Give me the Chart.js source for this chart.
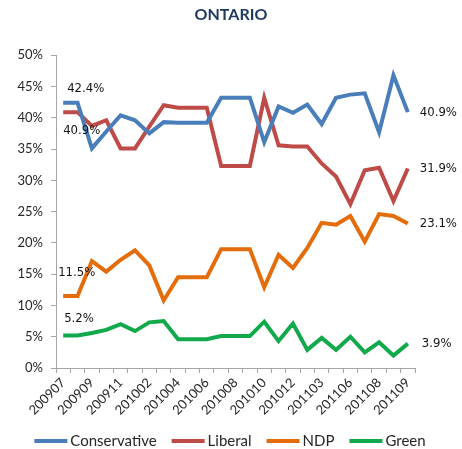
<!DOCTYPE html>
<html lang="en">
<head>
    <meta charset="UTF-8">
    <title>Ontario</title>
    <script src="https://cdn.jsdelivr.net/npm/chart.js"></script>
    <style>
        body {
            margin: 0;
            background: #ffffff;
        }
        canvas {
            display: block;
        }
    </style>
</head>
<body>
    <canvas id="ontarioChart" width="462" height="449"></canvas>

    <script>
        // Poll dates (only every other one is printed on the axis)
        const months = [
            '200907', '200908', '200909', '200910', '200911', '200912',
            '201002', '201003', '201004', '201005', '201006', '201007',
            '201008', '201009', '201010', '201011', '201012', '201101',
            '201103', '201105', '201106', '201107', '201108', '201108',
            '201109'
        ];

        // Party support, %
        const conservative = [42.4, 42.4, 35.1, 37.8, 40.4, 39.6, 37.5, 39.3, 39.2, 39.2, 39.2, 43.2, 43.2,
                              43.2, 36.1, 41.8, 40.8, 42.1, 39.0, 43.2, 43.7, 43.9, 37.7, 46.8, 40.9];
        const liberal      = [40.9, 40.9, 38.7, 39.6, 35.1, 35.1, 38.6, 42.0, 41.6, 41.6, 41.6, 32.3, 32.3,
                              32.3, 43.2, 35.6, 35.4, 35.4, 32.7, 30.6, 26.2, 31.6, 32.0, 26.7, 31.9];
        const ndp          = [11.5, 11.5, 17.1, 15.4, 17.3, 18.8, 16.4, 10.8, 14.5, 14.5, 14.5, 19.0, 19.0,
                              19.0, 12.9, 18.1, 16.0, 19.2, 23.2, 22.9, 24.3, 20.2, 24.6, 24.3, 23.1];
        const green        = [5.2, 5.2, 5.6, 6.1, 7.0, 5.9, 7.3, 7.5, 4.6, 4.6, 4.6, 5.1, 5.1,
                              5.1, 7.4, 4.3, 7.1, 2.9, 4.8, 2.9, 5.0, 2.5, 4.1, 2.0, 3.9];

        const yMax = 50;
        const yStep = 5;

        const axisGray = '#a6a6a6';
        const textColor = '#262626';

        function makeSet(label, data, color) {
            return {
                label: label,
                data: data,
                borderColor: color,
                backgroundColor: color,
                borderWidth: 4,
                pointRadius: 0,
                pointHoverRadius: 0,
                tension: 0,
                fill: false
            };
        }

        // where the first / last value labels sit, relative to the point
        const labelOffsets = {
            Conservative: { first: [4, -14], last: [12, 0] },
            Liberal:      { first: [0, 18],  last: [12, 0] },
            NDP:          { first: [-5, -23], last: [12, 0] },
            Green:        { first: [1, -17], last: [14, 0] }
        };

        const endLabels = {
            id: 'endLabels',
            afterDatasetsDraw(chart) {
                const ctx = chart.ctx;
                ctx.save();
                ctx.font = "13px 'DejaVu Sans Condensed', 'DejaVu Sans', sans-serif";
                ctx.fillStyle = '#141414';
                ctx.textAlign = 'left';
                ctx.textBaseline = 'middle';
                chart.data.datasets.forEach((ds, i) => {
                    const meta = chart.getDatasetMeta(i);
                    const off = labelOffsets[ds.label];
                    const first = meta.data[0];
                    const last = meta.data[meta.data.length - 1];
                    ctx.fillText(ds.data[0].toFixed(1) + '%', first.x + off.first[0], first.y + off.first[1]);
                    ctx.fillText(ds.data[ds.data.length - 1].toFixed(1) + '%', last.x + off.last[0], last.y + off.last[1]);
                });
                ctx.restore();
            }
        };

        // Excel-like legend: short thick line, name right after it
        const lineLegend = {
            id: 'lineLegend',
            afterDraw(chart) {
                const ctx = chart.ctx;
                const sets = chart.data.datasets;
                const lineLen = 33, textGap = 3, itemGap = 15;
                ctx.save();
                ctx.font = "15px Lato, sans-serif";
                const widths = sets.map(ds => ctx.measureText(ds.label).width);
                let total = 0;
                widths.forEach((w, i) => {
                    total += lineLen + textGap + w + (i < widths.length - 1 ? itemGap : 0);
                });
                let x = 230 - total / 2;
                const y = 441;
                ctx.textBaseline = 'middle';
                ctx.textAlign = 'left';
                sets.forEach((ds, i) => {
                    ctx.strokeStyle = ds.borderColor;
                    ctx.lineWidth = 4;
                    ctx.beginPath();
                    ctx.moveTo(x, y);
                    ctx.lineTo(x + lineLen, y);
                    ctx.stroke();
                    x += lineLen + textGap;
                    ctx.fillStyle = textColor;
                    ctx.fillText(ds.label, x, y);
                    x += widths[i] + itemGap;
                });
                ctx.restore();
            }
        };

        const ctx = document.getElementById('ontarioChart').getContext('2d');
        new Chart(ctx, {
            type: 'line',
            data: {
                labels: months,
                datasets: [
                    makeSet('Conservative', conservative, '#4a7ebb'),
                    makeSet('Liberal', liberal, '#be4b48'),
                    makeSet('NDP', ndp, '#e46c0a'),
                    makeSet('Green', green, '#12a84c')
                ]
            },
            options: {
                responsive: false,
                animation: false,
                layout: {
                    padding: { left: 0, right: 0, top: 0, bottom: 26 }
                },
                plugins: {
                    title: {
                        display: true,
                        text: 'ONTARIO',
                        color: '#1f3a60',
                        font: { family: 'Lato', size: 16, weight: 'bold' },
                        padding: { top: 5, bottom: 31 }
                    },
                    legend: { display: false },
                    tooltip: { enabled: false }
                },
                scales: {
                    x: {
                        offset: true,
                        grid: {
                            offset: true,
                            drawOnChartArea: false,
                            drawTicks: true,
                            tickLength: 5,
                            color: axisGray
                        },
                        border: { display: true, color: axisGray, width: 1 },
                        ticks: {
                            autoSkip: false,
                            minRotation: 45,
                            maxRotation: 45,
                            padding: 2,
                            color: textColor,
                            font: { family: 'Lato', size: 13 },
                            callback: function (value, index) {
                                return index % 2 === 0 ? months[index] : '';
                            }
                        },
                        afterFit: function (scale) {
                            scale.height = 55;
                        }
                    },
                    y: {
                        min: 0,
                        max: yMax,
                        grid: {
                            drawOnChartArea: false,
                            drawTicks: true,
                            tickLength: 5,
                            color: axisGray
                        },
                        border: { display: true, color: axisGray, width: 1 },
                        ticks: {
                            stepSize: yStep,
                            padding: 8,
                            color: textColor,
                            font: { family: 'Lato', size: 13 },
                            callback: function (value) {
                                return value + '%';
                            }
                        },
                        afterFit: function (scale) {
                            scale.width = 56;
                        }
                    },
                    // empty axis that keeps room for the end labels
                    yRight: {
                        position: 'right',
                        display: true,
                        grid: { display: false },
                        border: { display: false },
                        ticks: { display: false },
                        afterFit: function (scale) {
                            scale.width = 47;
                        }
                    }
                }
            },
            plugins: [endLabels, lineLegend]
        });
    </script>
</body>
</html>
